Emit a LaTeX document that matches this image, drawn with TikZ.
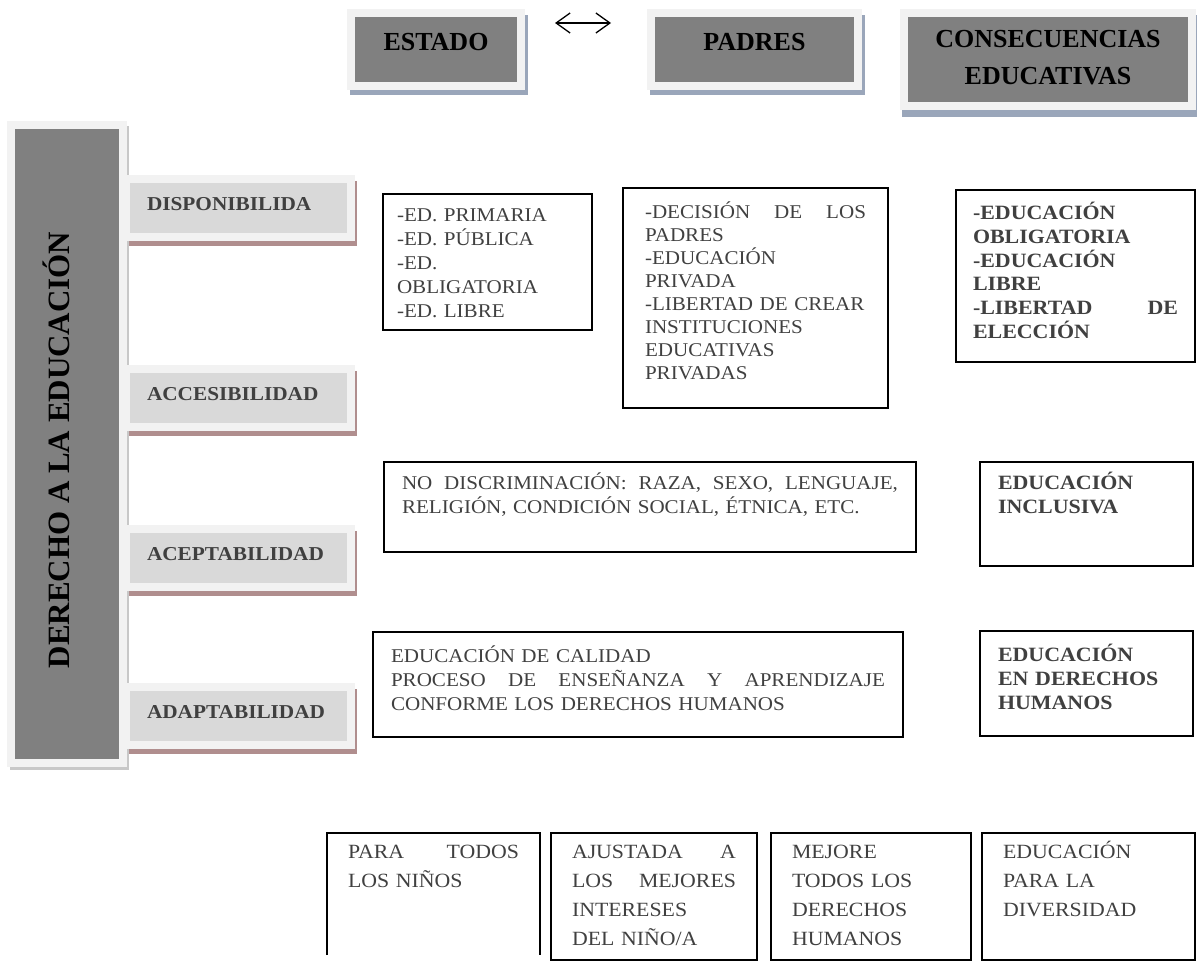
\documentclass[tikz,border=0pt]{standalone}
\usepackage{fontspec}
\setmainfont{Liberation Serif}
\newfontfamily\widefont{Liberation Serif}[FakeStretch=1.08]
\usetikzlibrary{arrows.meta,backgrounds,calc}
\definecolor{boxgray}{HTML}{808080}
\definecolor{framegray}{HTML}{F2F2F2}
\definecolor{sidegray}{HTML}{D9D9D9}
\definecolor{txtgray}{HTML}{404040}
\definecolor{shblue}{HTML}{9AA6BA}
\definecolor{shred}{HTML}{B08E8E}
\definecolor{shgray}{HTML}{C8C8C8}
\newcommand\ctfont{\widefont\fontsize{19.5}{24}\selectfont}
\newcommand\ctfontp{\widefont\fontsize{19.5}{23.1}\selectfont}
\newcommand\cbfont{\widefont\bfseries\fontsize{20.3}{23.8}\selectfont}
\newcommand\cbfontb{\widefont\bfseries\fontsize{20.3}{24}\selectfont}
\newcommand\btfont{\widefont\fontsize{20.2}{29}\selectfont}
\tikzset{
  hdr/.style={fill=boxgray, draw=framegray, line width=8pt, outer sep=0pt,
    inner ysep=0pt, inner xsep=0pt, anchor=north west,
    font=\bfseries\fontsize{26}{37}\selectfont, text=black},
  sidebox/.style={fill=sidegray, draw=framegray, line width=8pt, outer sep=0pt,
    inner ysep=0pt, inner xsep=21pt, anchor=north west, align=left, text width=183pt,
    text height=31.5pt, text depth=26.5pt,
    font=\widefont\bfseries\fontsize{19.7}{22}\selectfont, text=txtgray},
  bigbox/.style={fill=boxgray, draw=framegray, line width=8pt, outer sep=0pt,
    inner sep=0pt, anchor=north west},
  bigtxt/.style={font=\bfseries\fontsize{31}{37}\selectfont, text=black, inner sep=0pt},
  cbox/.style={draw=black, line width=1.6pt, outer sep=0pt, inner ysep=0pt,
    anchor=north west, align=left, text=txtgray},
  obox/.style={cbox, draw=none},
  lr/.style={{Straight Barb[length=14pt,width=20pt]}-{Straight Barb[length=14pt,width=20pt]}, line width=1.3pt}
}
\begin{document}
\begin{tikzpicture}[x=1pt, y=-1pt]
\useasboundingbox (0,0) rectangle (1197,963);

% header boxes
\node[hdr, minimum width=170pt, text height=37.5pt, text depth=35.5pt] (estado) at (351,13) {ESTADO};
\node[hdr, minimum width=207pt, text height=37.5pt, text depth=35.5pt] (padres) at (651,13) {PADRES};
\node[hdr, text width=288pt, align=center, text height=35pt, text depth=58.5pt] (conse) at (904,13) {CONSECUENCIAS\\EDUCATIVAS};
\coordinate (aL) at (555,23);
\coordinate (aR) at (611,23);
\draw[lr] (aL) -- (aR);

% side boxes
\node[sidebox] (disp) at (126,179) {DISPONIBILIDA};
\node[sidebox] (acce) at (126,369) {ACCESIBILIDAD};
\node[sidebox] (acep) at (126,529) {ACEPTABILIDAD};
\node[sidebox] (adap) at (126,687) {ADAPTABILIDAD};

% big vertical box
\node[bigbox, minimum width=112pt, minimum height=637.5pt] (derecho) at (11,125) {};
\node[bigtxt, rotate=90, anchor=base] (dtxt) at (69,450) {DERECHO A LA EDUCACIÓN};

% content boxes
\node[cbox, font=\ctfont, text width=181pt, inner xsep=14pt, text height=27.5pt, text depth=108.5pt] (prim) at (383,194)
  {-ED. PRIMARIA\\-ED. PÚBLICA\\-ED.\\OBLIGATORIA\\-ED. LIBRE};
\node[cbox, font=\ctfontp, text width=221pt, inner xsep=22pt, text height=30pt, text depth=190pt] (padr) at (623,188)
  {-DECISIÓN \hfill DE \hfill LOS\\PADRES\\-EDUCACIÓN\\PRIVADA\\-LIBERTAD DE CREAR\\INSTITUCIONES\\EDUCATIVAS\\PRIVADAS};
\node[cbox, font=\cbfont, text width=205pt, inner xsep=17pt, text height=29.5pt, text depth=142.5pt] (conr) at (956,190)
  {-EDUCACIÓN\\OBLIGATORIA\\-EDUCACIÓN\\LIBRE\\-LIBERTAD \hfill DE\\ELECCIÓN};

\node[cbox, font=\ctfont, text width=496pt, inner xsep=18pt, text height=27pt, text depth=63pt] (disc) at (384,462)
  {NO \hfill DISCRIMINACIÓN: \hfill RAZA, \hfill SEXO, \hfill LENGUAJE,\\RELIGIÓN, CONDICIÓN SOCIAL, ÉTNICA, ETC.};
\node[cbox, font=\cbfontb, text width=177pt, inner xsep=18pt, text height=27.5pt, text depth=76.5pt] (incl) at (980,462)
  {EDUCACIÓN\\INCLUSIVA};

\node[cbox, font=\ctfont, text width=494pt, inner xsep=18pt, text height=30pt, text depth=75pt] (cali) at (373,632)
  {EDUCACIÓN DE CALIDAD\\PROCESO \hfill DE \hfill ENSEÑANZA \hfill Y \hfill APRENDIZAJE\\CONFORME LOS DERECHOS HUMANOS};
\node[cbox, font=\cbfontb, text width=177pt, inner xsep=18pt, text height=30.5pt, text depth=74.5pt] (dhum) at (980,631)
  {EDUCACIÓN\\EN DERECHOS\\HUMANOS};

% bottom boxes
\node[obox, font=\btfont, text width=171pt, inner xsep=21pt, text height=25pt, text depth=97pt] (bA) at (327,833)
  {PARA \hfill TODOS\\LOS NIÑOS};
\draw[line width=1.6pt] (bA.south west) -- (bA.north west) -- (bA.north east) -- (bA.south east);
\node[cbox, font=\btfont, text width=164pt, inner xsep=21pt, text height=25pt, text depth=102pt] (bB) at (551,833)
  {AJUSTADA \hfill A\\LOS \hfill MEJORES\\INTERESES\\DEL NIÑO/A};
\node[cbox, font=\btfont, text width=158pt, inner xsep=21pt, text height=25pt, text depth=102pt] (bC) at (771,833)
  {MEJORE\\TODOS LOS\\DERECHOS\\HUMANOS};
\node[cbox, font=\btfont, text width=171pt, inner xsep=21pt, text height=25pt, text depth=102pt] (bD) at (982,833)
  {EDUCACIÓN\\PARA LA\\DIVERSIDAD};

% shadows
\begin{scope}[on background layer]
  \fill[shblue] ($(estado.north west)+(-1,2)$) rectangle ($(estado.south east)+(7,9)$);
  \fill[shblue] ($(padres.north west)+(-1,2)$) rectangle ($(padres.south east)+(7,9)$);
  \fill[shblue] ($(conse.north west)+(-2,2)$) rectangle ($(conse.south east)+(9,10.5)$);
  \fill[shred] ($(disp.north west)+(0,2)$) rectangle ($(disp.south east)+(6,9)$);
  \fill[shred] ($(acce.north west)+(0,2)$) rectangle ($(acce.south east)+(6,9)$);
  \fill[shred] ($(acep.north west)+(0,2)$) rectangle ($(acep.south east)+(6,9)$);
  \fill[shred] ($(adap.north west)+(0,2)$) rectangle ($(adap.south east)+(6,9)$);
  \fill[shgray] ($(derecho.north west)+(-1,1)$) rectangle ($(derecho.south east)+(6,7.5)$);
\end{scope}
\end{tikzpicture}
\end{document}
